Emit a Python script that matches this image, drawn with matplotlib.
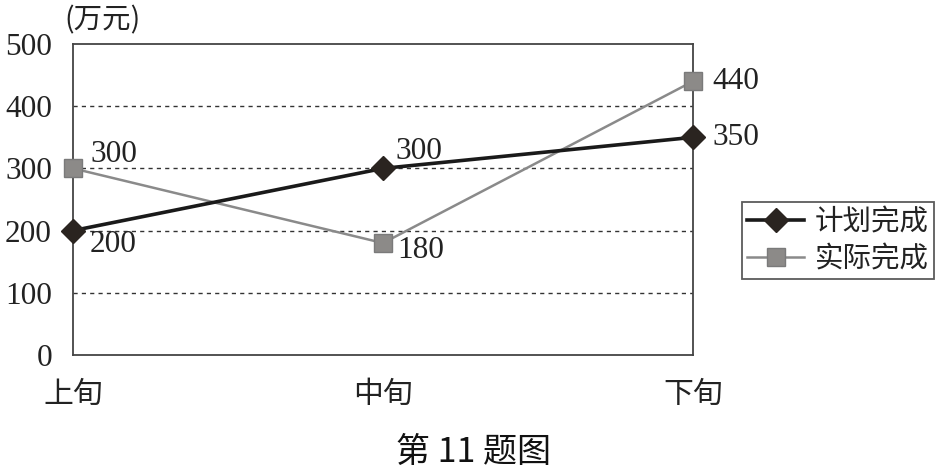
import matplotlib
matplotlib.use("Agg")
import matplotlib.pyplot as plt

categories = ["上旬", "中旬", "下旬"]
plan = [200, 300, 350]
actual = [300, 180, 440]
yticks = [0, 100, 200, 300, 400, 500]

cjk = ["Noto Sans CJK SC", "DejaVu Sans"]
serif = ["Liberation Serif", "DejaVu Serif"]
PX = 0.72  # points per pixel at dpi 100

fig = plt.figure(figsize=(9.48, 4.73), dpi=100)
ax = fig.add_axes([73/948, 1-355/473, (693-73)/948, (355-44)/473])

x = list(range(len(categories)))
l1, = ax.plot(x, plan, color="#1a1a1a", lw=2.6, marker="D", ms=12.5,
              markerfacecolor="#2a2420", markeredgecolor="#2a2420", label="计划完成", zorder=4, clip_on=False)
l2, = ax.plot(x, actual, color="#8a8a8a", lw=1.8, marker="s", ms=12.5,
              markerfacecolor="#8c8a88", markeredgecolor="#7a7a7a", label="实际完成", zorder=3, clip_on=False)

ax.set_xlim(0, 2)
ax.set_ylim(0, 500)
ax.set_yticks(yticks)
ax.set_yticklabels([str(v) for v in yticks], fontfamily=serif, fontsize=22.5, color="#222222")
ax.set_xticks(x)
ax.set_xticklabels(categories, fontfamily=cjk, fontsize=21.5, color="#222222")
ax.tick_params(axis="y", length=0, pad=21*PX)
ax.tick_params(axis="x", length=0, pad=24*PX)

for v in yticks[1:-1]:
    ax.axhline(v, color="#333333", lw=1.0, ls=(0, (3, 3)), zorder=1)
for s in ax.spines.values():
    s.set_color("#444444")
    s.set_linewidth(1.3)

# data labels (offsets in pixels)
lab = dict(fontfamily=serif, fontsize=22.5, color="#222222", textcoords="offset points",
           ha="left", va="center")
ax.annotate(str(actual[0]), (0, actual[0]), xytext=(17*PX, 14*PX), **lab)
ax.annotate(str(plan[0]), (0, plan[0]), xytext=(17*PX, -14*PX), **lab)
ax.annotate(str(plan[1]), (1, plan[1]), xytext=(12*PX, 17*PX), **lab)
ax.annotate(str(actual[1]), (1, actual[1]), xytext=(14*PX, -7*PX), **lab)
ax.annotate(str(actual[2]), (2, actual[2]), xytext=(19*PX, 0), **lab)
ax.annotate(str(plan[2]), (2, plan[2]), xytext=(19*PX, 0), **lab)

fig.text(64/948, 1-20/473, "(万元)", fontfamily=cjk, fontsize=20.5, color="#222222", ha="left", va="center")

leg = ax.legend(handles=[l1, l2], loc="upper left", bbox_to_anchor=(742/948, 1-202/473),
                bbox_transform=fig.transFigure, prop={"family": cjk, "size": 20.5},
                frameon=True, fancybox=False, edgecolor="#333333", borderpad=0.18,
                handlelength=2.0, handletextpad=0.39, labelspacing=0.25, borderaxespad=0)
leg.get_frame().set_linewidth(1.3)
for t in leg.get_texts():
    t.set_color("#222222")

fig.text(473/948, 1-452/473, "第 11 题图", fontfamily=cjk, fontsize=24.5, ha="center", va="center",
         color="#111111", fontweight="medium")

fig.savefig("out.png", dpi=100)
